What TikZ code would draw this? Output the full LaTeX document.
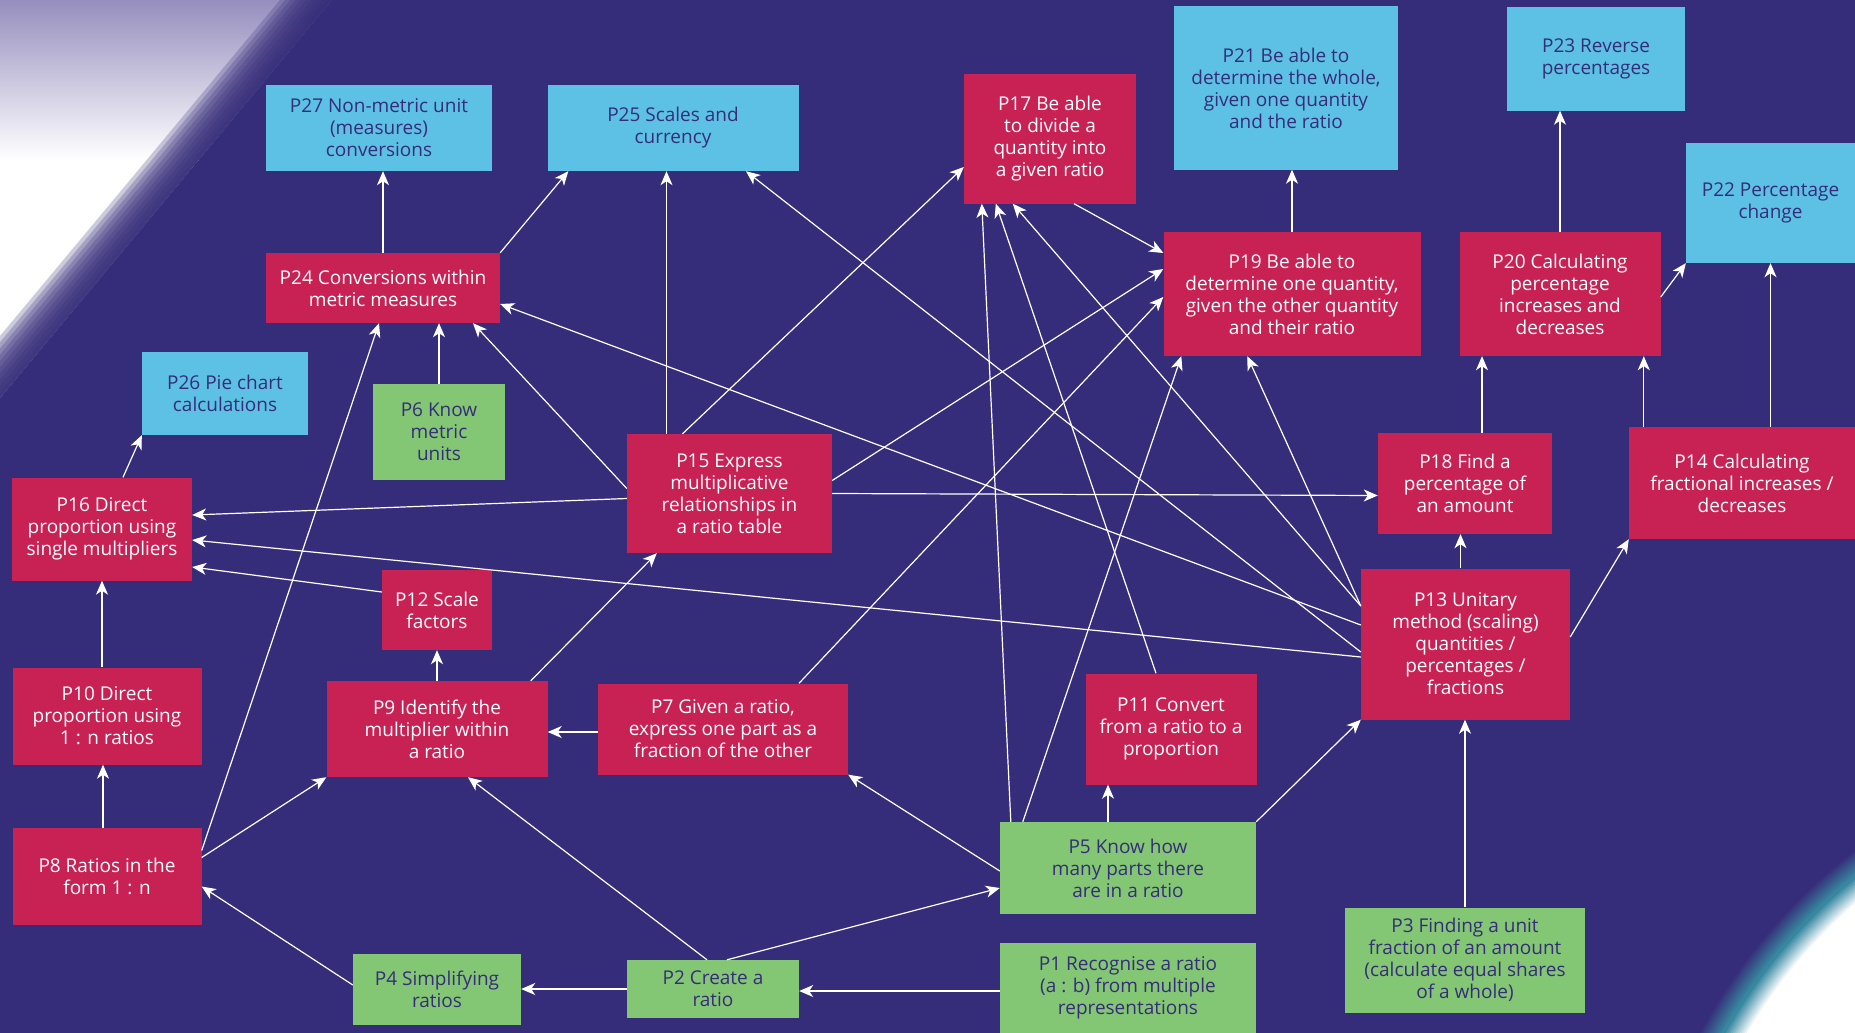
\documentclass[tikz,border=0pt]{standalone}
\usepackage{fontspec}
\setmainfont{Open Sans}
\usepackage{tikz}
\usetikzlibrary{arrows.meta}
\definecolor{bgp}{RGB}{54,45,122}
\definecolor{crim}{RGB}{200,33,84}
\definecolor{sky}{RGB}{92,193,228}
\definecolor{leaf}{RGB}{131,198,115}
\definecolor{lav}{RGB}{150,142,190}
\definecolor{gteal}{RGB}{55,135,160}
\tikzset{%
	box/.style={rectangle, inner sep=0mm, align=center, font=\fontsize{19}{22}\selectfont},
	wh/.style 2 args={minimum width=#1pt, minimum height=#2pt},
	req/.style={box, fill=crim, text=white},
	ext/.style={box, fill=sky, text=bgp},
	pre/.style={box, fill=leaf, text=bgp},
	dep/.style={draw=white, line width=1.2pt, -{Stealth[length=14pt, width=12pt, inset=4pt]}}
}
\begin{document}
\begin{tikzpicture}[x=1pt, y=-1pt]
	\useasboundingbox (0,0) rectangle (1855,1033);
	\fill[bgp] (0,0) rectangle (1855,1033);
	\begin{scope}
		\clip (0,0) -- (332,0) -- (0,398) -- cycle;
		\shade[top color=lav, bottom color=white] (0,0) rectangle (332,160);
		\fill[white] (0,160) rectangle (332,398);
	\end{scope}
	\foreach \d in {215,219,...,251}
		\fill[bgp, opacity=0.25] (\d/0.768,0) -- (332,0) -- (0,398) -- (0,\d/0.640) -- cycle;
	\begin{scope}
		\clip (0,0) rectangle (1855,1033);
		\foreach \r in {568,566,...,548} {
			\pgfmathtruncatemacro\p{(568-\r)*5}
			\fill[gteal!\p!bgp] (2200,1300) circle[radius=\r pt];
		}
		\foreach \r in {546,544,...,526} {
			\pgfmathtruncatemacro\p{(546-\r)*5}
			\fill[white!\p!gteal] (2200,1300) circle[radius=\r pt];
		}
		\fill[white] (2200,1300) circle[radius=525pt];
	\end{scope}

	\node[ext, wh={226}{86}] (p27) at (379,128) {P27 Non-metric unit\\(measures)\\conversions};
	\node[ext, wh={251}{86}] (p25) at (673,128) {P25 Scales and\\currency};
	\node[req, wh={172}{129}] (p17) at (1050,139) {P17 Be able\\to divide a\\quantity into\\a given ratio};
	\node[ext, wh={224}{163}] (p21) at (1286,88) {P21 Be able to\\determine the whole,\\given one quantity\\and the ratio};
	\node[ext, wh={178}{103}] (p23) at (1596,59) {P23 Reverse\\percentages};
	\node[ext, wh={169}{120}] (p22) at (1770.5,203) {P22 Percentage\\change};
	\node[req, wh={234}{70}] (p24) at (383,288) {P24 Conversions within\\metric measures};
	\node[req, wh={257}{124}] (p19) at (1292,294) {P19 Be able to\\determine one quantity,\\given the other quantity\\and their ratio};
	\node[req, wh={201}{124}] (p20) at (1560,294) {P20 Calculating\\percentage\\increases and\\decreases};
	\node[ext, wh={166}{83}] (p26) at (225,393.5) {P26 Pie chart\\calculations};
	\node[pre, wh={132}{96}] (p6) at (439,432) {P6 Know\\metric\\units};
	\node[req, wh={205}{119}] (p15) at (729.5,493.5) {P15 Express\\multiplicative\\relationships in\\a ratio table};
	\node[req, wh={174}{101}] (p18) at (1465,483.5) {P18 Find a\\percentage of\\an amount};
	\node[req, wh={226}{112}] (p14) at (1742,483) {P14 Calculating\\fractional increases /\\decreases};
	\node[req, wh={180}{103}] (p16) at (102,529) {P16 Direct\\proportion using\\single multipliers};
	\node[req, wh={110}{80}] (p12) at (437,610) {P12 Scale\\factors};
	\node[req, wh={209}{151}] (p13) at (1465.5,644) {P13 Unitary\\method (scaling)\\quantities /\\percentages /\\fractions};
	\node[req, wh={189}{97}] (p10) at (107,716) {P10 Direct\\proportion using\\1 : n ratios};
	\node[req, wh={221}{96}] (p9) at (437,729) {P9 Identify the\\multiplier within\\a ratio};
	\node[req, wh={250}{91}] (p7) at (723,729) {P7 Given a ratio,\\express one part as a\\fraction of the other};
	\node[req, wh={171}{111}] (p11) at (1171,729) {P11 Convert\\from a ratio to a\\proportion};
	\node[pre, wh={256}{92}] (p5) at (1128,868) {P5 Know how\\many parts there\\are in a ratio};
	\node[req, wh={189}{97}] (p8) at (107,876.5) {P8 Ratios in the\\form 1 : n};
	\node[pre, wh={240}{105}] (p3) at (1465,960) {P3 Finding a unit\\fraction of an amount\\(calculate equal shares\\of a whole)};
	\node[pre, wh={168}{71}] (p4) at (437,989) {P4 Simplifying\\ratios};
	\node[pre, wh={172}{58}] (p2) at (713,989) {P2 Create a\\ratio};
	\node[pre, wh={256}{90}] (p1) at (1128,988) {P1 Recognise a ratio\\(a : b) from multiple\\representations};

	\draw[dep] (p24.north) -- (p24.north |- p27.south);
	\draw[dep] (p24.north east) -- ([xshift=21pt]p25.south west);
	\draw[dep] (p6.north) -- (p6.north |- p24.south);
	\draw[dep] ([yshift=26pt]p8.east) -- ([xshift=-4pt]p24.south);
	\draw[dep] ([yshift=5pt]p15.west) -- ([xshift=90pt]p24.south);
	\draw[dep] ([yshift=19pt]p13.west) -- ([yshift=-16pt]p24.east);
	\draw[dep] ([xshift=-63pt]p15.north) -- ([xshift=-63pt]p15.north |- p25.south);
	\draw[dep] ([yshift=-8pt]p13.west) -- ([xshift=73pt]p25.south);
	\draw[dep] ([xshift=-47pt]p15.north) -- ([yshift=-28pt]p17.west);
	\draw[dep] ([xshift=11pt]p5.north west) -- ([xshift=18pt]p17.south west);
	\draw[dep] ([xshift=-15pt]p11.north) -- ([xshift=32pt]p17.south west);
	\draw[dep] ([yshift=38pt]p13.west) -- ([xshift=49pt]p17.south west);
	\draw[dep] ([xshift=24pt]p17.south) -- ([yshift=41pt]p19.west);
	\draw[dep] ([yshift=13pt]p15.east) -- ([yshift=25pt]p19.west);
	\draw[dep] ([xshift=76pt]p7.north) -- ([yshift=-3pt]p19.west);
	\draw[dep] ([xshift=23pt]p5.north west) -- ([xshift=18pt]p19.south west);
	\draw[dep] ([yshift=38pt]p13.west) -- ([xshift=84pt]p19.south west);
	\draw[dep] (p19.north) -- (p19.north |- p21.south);
	\draw[dep] (p15.east) -- ([yshift=-12pt]p18.west);
	\draw[dep] ([xshift=-5pt]p13.north) -- ([xshift=-5pt]p13.north |- p18.south);
	\draw[dep] ([xshift=17pt]p18.north) -- ([xshift=17pt]p18.north |- p20.south);
	\draw[dep] (p20.north) -- (p20.north |- p23.south);
	\draw[dep] ([yshift=-3pt]p20.east) -- (p22.south west);
	\draw[dep] ([xshift=15pt]p14.north west) -- ([xshift=15pt]p14.north west |- p20.south);
	\draw[dep] (p22.south |- p14.north) -- (p22.south);
	\draw[dep] ([yshift=7pt]p13.east) -- (p14.south west);
	\draw[dep] (p3.north) -- (p3.north |- p13.south);
	\draw[dep] (p5.north east) -- (p13.south west);
	\draw[dep] ([xshift=-20pt]p5.north) -- ([xshift=-20pt]p5.north |- p11.south);
	\draw[dep] ([yshift=-3pt]p5.west) -- (p7.south east);
	\draw[dep] ([xshift=14pt]p2.north) -- ([yshift=-20pt]p5.west);
	\draw[dep] ([xshift=-6pt]p2.north) -- ([xshift=31pt]p9.south);
	\draw[dep] ([yshift=-3pt]p1.west) -- ([yshift=-2pt]p2.east);
	\draw[dep] (p2.west) -- (p4.east);
	\draw[dep] ([yshift=4pt]p4.west) -- ([yshift=-10pt]p8.east);
	\draw[dep] ([xshift=-4pt]p8.north) -- ([xshift=-4pt]p8.north |- p10.south);
	\draw[dep] (p16.south |- p10.north) -- (p16.south);
	\draw[dep] ([xshift=21pt]p16.north) -- (p26.south west);
	\draw[dep] ([yshift=19pt]p8.east) -- (p9.south west);
	\draw[dep] ([yshift=-3pt]p7.west) -- ([yshift=-3pt]p9.east);
	\draw[dep] (p9.north) -- (p9.north |- p12.south);
	\draw[dep] ([xshift=-17pt]p9.north east) -- ([xshift=30pt]p15.south west);
	\draw[dep] ([yshift=18pt]p12.west) -- ([yshift=-38pt]p16.east);
	\draw[dep] ([yshift=-5pt]p15.west) -- ([yshift=14pt]p16.east);
	\draw[dep] ([yshift=-13pt]p13.west) -- ([yshift=-11pt]p16.east);
\end{tikzpicture}
\end{document}
